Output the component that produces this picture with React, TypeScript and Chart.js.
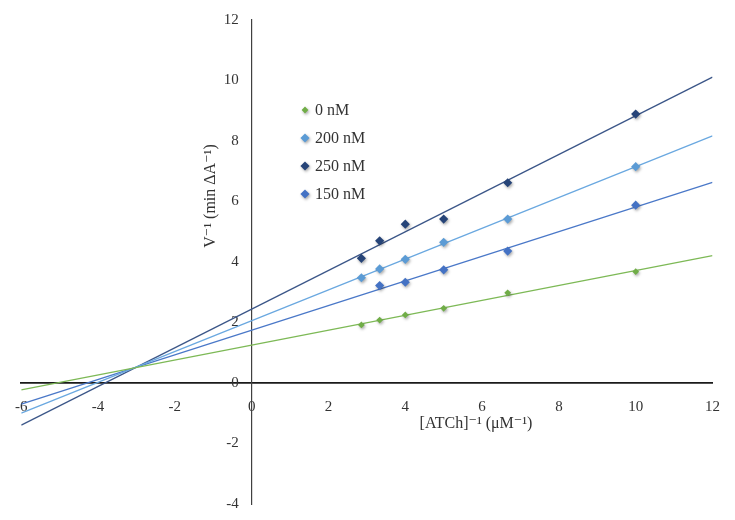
import React, { useEffect, useRef } from "react";
import { Chart, registerables } from "chart.js";

Chart.register(...registerables);

// ---- data ----
const xValues = [2.857, 3.333, 4, 5, 6.667, 10];
const xValues150 = [3.333, 4, 5, 6.667, 10];
const series0 = [1.92, 2.08, 2.25, 2.47, 2.98, 3.68];
const series200 = [3.48, 3.77, 4.09, 4.65, 5.42, 7.15];
const series250 = [4.12, 4.7, 5.25, 5.42, 6.62, 8.89];
const series150 = [3.22, 3.33, 3.74, 4.36, 5.88];
const seriesLabels = ["0 nM", "200 nM", "250 nM", "150 nM"];
const markerColors = ["#70AD47", "#5B9BD5", "#264478", "#4472C4"];
const lineColors = ["#7DB956", "#6AA8E0", "#3B5688", "#4A78C8"];
const markerRadius = [3.4, 4.6, 4.6, 4.6];
const xRange = [-6, 12];
const yRange = [-4, 12];
const xTitle = "[ATCh]⁻¹ (μM⁻¹)";
const yTitle = "V⁻¹ (min ΔA⁻¹)";

const FONT = "'Liberation Serif', 'DejaVu Serif', serif";

function regression(xs: number[], ys: number[]) {
  const n = xs.length;
  const mx = xs.reduce((a, b) => a + b, 0) / n;
  const my = ys.reduce((a, b) => a + b, 0) / n;
  let sxx = 0;
  let sxy = 0;
  for (let i = 0; i < n; i++) {
    sxx += (xs[i] - mx) * (xs[i] - mx);
    sxy += (xs[i] - mx) * (ys[i] - my);
  }
  const slope = sxy / sxx;
  return { slope, intercept: my - slope * mx };
}

const seriesX = [xValues, xValues, xValues, xValues150];
const seriesY = [series0, series200, series250, series150];

const shadowPlugin = {
  id: "markerShadow",
  beforeDatasetDraw(chart: any, args: any) {
    const ds = chart.data.datasets[args.index];
    if (ds.isMarker) {
      const ctx = chart.ctx;
      ctx.save();
      ctx.shadowColor = "rgba(0,0,0,0.35)";
      ctx.shadowBlur = 3;
      ctx.shadowOffsetX = 1;
      ctx.shadowOffsetY = 1.5;
    }
  },
  afterDatasetDraw(chart: any, args: any) {
    const ds = chart.data.datasets[args.index];
    if (ds.isMarker) chart.ctx.restore();
  },
};

const annotationPlugin = {
  id: "customText",
  afterDraw(chart: any) {
    const ctx = chart.ctx;
    ctx.save();
    ctx.fillStyle = "#333333";
    ctx.font = `16px ${FONT}`;
    // legend
    const lx = 305;
    const ly = 110;
    const gap = 28;
    seriesLabels.forEach((label, i) => {
      const y = ly + i * gap;
      const r = markerRadius[i];
      ctx.save();
      ctx.shadowColor = "rgba(0,0,0,0.35)";
      ctx.shadowBlur = 3;
      ctx.shadowOffsetX = 1;
      ctx.shadowOffsetY = 1.5;
      ctx.fillStyle = markerColors[i];
      ctx.beginPath();
      ctx.moveTo(lx, y - r);
      ctx.lineTo(lx + r, y);
      ctx.lineTo(lx, y + r);
      ctx.lineTo(lx - r, y);
      ctx.closePath();
      ctx.fill();
      ctx.restore();
      ctx.textAlign = "left";
      ctx.textBaseline = "middle";
      ctx.fillText(label, lx + 10, y + 1);
    });
    // x title
    ctx.textAlign = "center";
    ctx.textBaseline = "middle";
    ctx.fillText(xTitle, 476, 424);
    // y title
    ctx.translate(211, 196);
    ctx.rotate(-Math.PI / 2);
    ctx.fillText(yTitle, 0, 0);
    ctx.restore();
  },
};

// shift y tick labels left of the centred axis line
function offsetYLabels(scale: any) {
  if (scale.__patched) return;
  scale.__patched = true;
  const orig = scale._computeLabelItems.bind(scale);
  scale._computeLabelItems = (ca: any) =>
    orig(ca).map((item: any) => {
      const t = item.options.translation;
      return {
        ...item,
        options: { ...item.options, translation: [t[0] - 13, t[1]] },
      };
    });
}

export default function App() {
  const ref = useRef<HTMLCanvasElement>(null);

  useEffect(() => {
    if (!ref.current) return;
    const datasets: any[] = [];
    seriesLabels.forEach((label, i) => {
      const fit = regression(seriesX[i], seriesY[i]);
      datasets.push({
        label: label + " trend",
        type: "line",
        data: xRange.map((x) => ({ x, y: fit.intercept + fit.slope * x })),
        borderColor: lineColors[i],
        borderWidth: 1.3,
        pointRadius: 0,
        showLine: true,
        fill: false,
        order: 2,
      });
    });
    seriesLabels.forEach((label, i) => {
      datasets.push({
        label,
        isMarker: true,
        type: "scatter",
        data: seriesX[i].map((x, j) => ({ x, y: seriesY[i][j] })),
        backgroundColor: markerColors[i],
        borderColor: markerColors[i],
        borderWidth: 0,
        pointStyle: "rectRot",
        pointRadius: markerRadius[i],
        order: 1,
      });
    });

    const chart = new Chart(ref.current, {
      type: "scatter",
      data: { datasets },
      options: {
        animation: false,
        responsive: false,
        layout: { padding: { left: 18, right: 19, top: 20, bottom: 16 } },
        plugins: {
          legend: { display: false },
          tooltip: { enabled: false },
        },
        scales: {
          x: {
            type: "linear",
            min: xRange[0],
            max: xRange[1],
            position: { y: 0 } as any,
            grid: { display: false, drawTicks: false },
            border: { display: true, color: "#1a1a1a", width: 1.8 },
            ticks: {
              stepSize: 2,
              padding: 15,
              color: "#333333",
              font: { family: FONT, size: 15 },
              maxRotation: 0,
              autoSkip: false,
            },
          },
          y: {
            type: "linear",
            min: yRange[0],
            max: yRange[1],
            position: { x: 0 } as any,
            grid: { display: false, drawTicks: false },
            border: { display: true, color: "#404040", width: 1.2 },
            ticks: {
              stepSize: 2,
              color: "#333333",
              font: { family: FONT, size: 15 },
              autoSkip: false,
            },
            afterUpdate: offsetYLabels,
          },
        },
      },
      plugins: [shadowPlugin, annotationPlugin],
    } as any);
    return () => chart.destroy();
  }, []);

  return (
    <div style={{ position: "fixed", left: 0, top: 0, width: 735, height: 520, background: "#fff" }}>
      <canvas ref={ref} width={735} height={520} />
    </div>
  );
}
